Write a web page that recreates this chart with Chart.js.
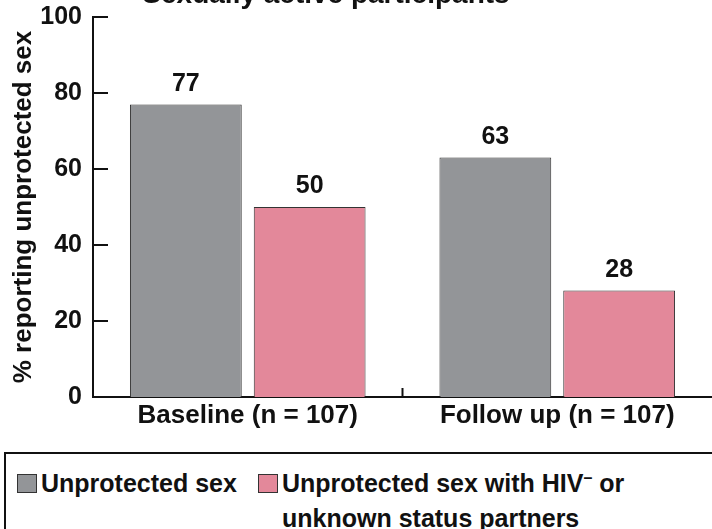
<!DOCTYPE html>
<html>
<head>
<meta charset="utf-8">
<script src="https://cdn.jsdelivr.net/npm/chart.js@4.4.1/dist/chart.umd.min.js"></script>
<style>
  html, body { margin:0; padding:0; background:#fff; overflow:hidden; }
  body { width:712px; height:529px; position:relative; font-family:'Liberation Sans', Arial, sans-serif; }
  #title { position:absolute; left:0; width:652px; top:-20px; text-align:center; font-weight:bold; font-size:28px; line-height:28px; color:#111; z-index:2; }
  #wrap { position:absolute; left:0; top:-9px; width:712px; height:461px; }
  #legend { position:absolute; left:4px; top:452px; width:720px; height:90px; border:2px solid #111; box-sizing:border-box; }
  .item { position:absolute; top:12px; font-weight:bold; font-size:25px; line-height:35px; color:#111; }
  .sw { position:absolute; left:0; top:8px; width:18px; height:17px; border:1px solid #333; }
  .txt { position:absolute; left:24px; top:0; white-space:nowrap; }
</style>
</head>
<body>
<div id="title">Sexually active participants</div>
<div id="wrap"><canvas id="c"></canvas></div>
<div id="legend">
  <div class="item" style="left:11px"><span class="sw" style="background:#939598"></span><span class="txt">Unprotected sex</span></div>
  <div class="item" style="left:252px"><span class="sw" style="background:#e3889a"></span><span class="txt">Unprotected sex with HIV<sup style="font-size:16px;line-height:0">&#8211;</sup> or<br>unknown status partners</span></div>
</div>
<script>
const categories = ['Baseline (n = 107)', 'Follow up (n = 107)'];
const unprotected = [77, 63];
const unprotectedHivNeg = [50, 28];
const yTicks = [0, 20, 40, 60, 80, 100];

const FONT = "'Liberation Sans', Arial, sans-serif";

/* inward tick marks + value labels */
const extras = {
  id: 'extras',
  afterDraw(chart) {
    const g = chart.ctx, y = chart.scales.y, x = chart.scales.x, a = chart.chartArea;
    g.save();
    g.strokeStyle = '#111'; g.lineWidth = 2;
    yTicks.forEach(v => {
      const py = Math.round(y.getPixelForValue(v));
      g.beginPath(); g.moveTo(a.left, py); g.lineTo(a.left + 15, py); g.stroke();
    });
    // category divider tick
    const mid = (x.getPixelForValue(0) + x.getPixelForValue(1)) / 2;
    g.beginPath(); g.moveTo(mid, a.bottom); g.lineTo(mid, a.bottom - 9); g.stroke();
    // value labels
    g.fillStyle = '#111'; g.font = 'bold 25px ' + FONT;
    g.textAlign = 'center'; g.textBaseline = 'bottom';
    chart.data.datasets.forEach((ds, i) => {
      chart.getDatasetMeta(i).data.forEach((bar, j) => {
        g.fillText(ds.data[j], bar.x, bar.y - 8);
      });
    });
    g.restore();
  }
};

new Chart(document.getElementById('c'), {
  type: 'bar',
  data: {
    labels: categories,
    datasets: [
      { label: 'Unprotected sex', data: unprotected,
        backgroundColor: '#939598', borderColor: '#333', borderWidth: 1,
        barPercentage: 0.903, categoryPercentage: 0.8 },
      { label: 'Unprotected sex with HIV- or unknown status partners', data: unprotectedHivNeg,
        backgroundColor: '#e3889a', borderColor: '#333', borderWidth: 1,
        barPercentage: 0.903, categoryPercentage: 0.8 },
    ]
  },
  options: {
    responsive:true, maintainAspectRatio:false, animation:false,
    layout:{ padding:{ top:0, right:0, left:0, bottom:0 } },
    plugins:{ legend:{display:false}, tooltip:{enabled:false} },
    scales:{
      x:{
        grid:{ display:false, drawTicks:false },
        border:{ color:'#111', width:2 },
        ticks:{ font:{ family:FONT, size:26, weight:'bold' }, color:'#111', padding:3 },
        afterFit: s => { s.height = 55; }
      },
      y:{
        min:0, max:100,
        afterBuildTicks: s => { s.ticks = yTicks.map(v => ({ value:v })); },
        grid:{ display:false, drawTicks:false },
        border:{ color:'#111', width:2 },
        ticks:{ font:{ family:FONT, size:25, weight:'bold' }, color:'#111', padding:11 },
        title:{ display:true, text:'% reporting unprotected sex',
          font:{ family:FONT, size:26, weight:'bold' }, color:'#111', padding:{ top:8, bottom:0 } },
        afterFit: s => { s.width = 93; }
      }
    }
  },
  plugins:[extras]
});
</script>
</body>
</html>
